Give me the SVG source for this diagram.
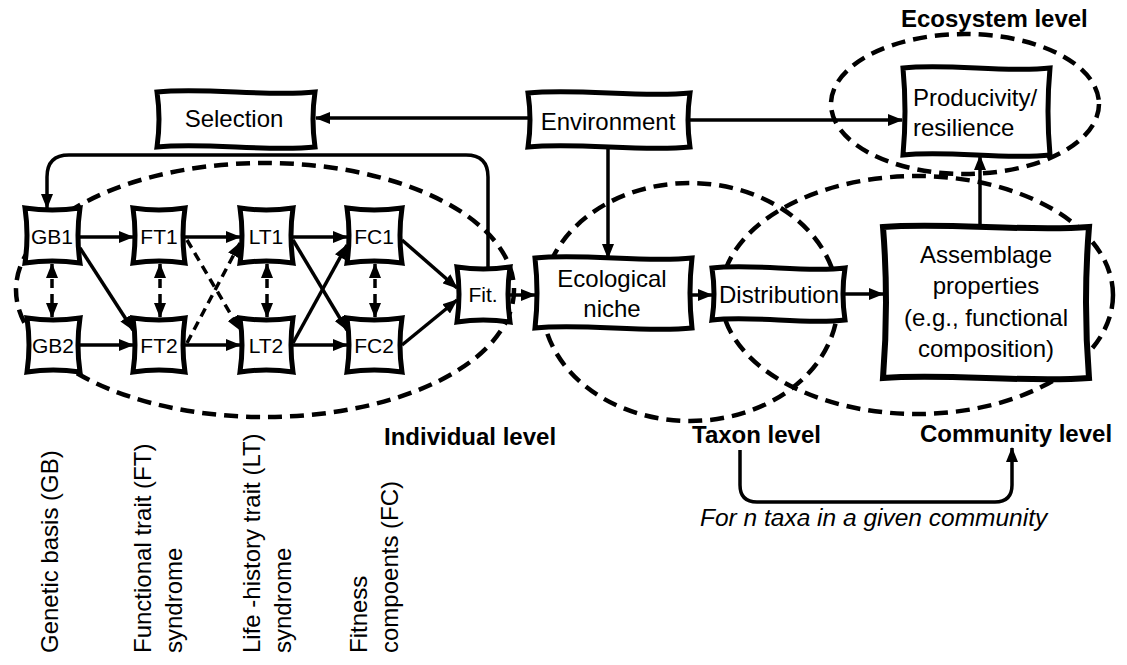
<svg xmlns="http://www.w3.org/2000/svg" width="1127" height="665" viewBox="0 0 1127 665">
<defs>
<marker id="ah" markerUnits="userSpaceOnUse" markerWidth="15" markerHeight="12" refX="14" refY="6" orient="auto-start-reverse" viewBox="0 0 15 12">
<path d="M0,0 L15,6 L0,12 Z" fill="#000"/>
</marker>
</defs>
<style>
.box{fill:#fff;stroke:#000;stroke-width:5;stroke-linejoin:miter}
.ell{fill:none;stroke:#000;stroke-width:4.5;stroke-dasharray:14 8}
.c{fill:none;stroke:#000;stroke-width:3.5}
.d{fill:none;stroke:#000;stroke-width:3.5;stroke-dasharray:9 6}
.t{font-family:"Liberation Sans",Arial,sans-serif;font-size:24px;fill:#000}
.s{font-family:"Liberation Sans",Arial,sans-serif;font-size:21px;fill:#000;text-anchor:middle}
.m{text-anchor:middle}
.b{font-weight:bold}
.i{font-style:italic;font-size:24.5px}
</style>
<rect width="1127" height="665" fill="#fff"/>

<g id="regions">
<ellipse class="ell" cx="265" cy="290" rx="249" ry="127"/>
<ellipse class="ell" cx="690" cy="302" rx="148" ry="119"/>
<ellipse class="ell" cx="917" cy="295" rx="196" ry="119"/>
<ellipse class="ell" cx="965" cy="104" rx="134" ry="70"/>
</g>

<g id="connectors">
<path class="c" d="M80,237 H133" marker-end="url(#ah)"/>
<path class="c" d="M80,345 H133" marker-end="url(#ah)"/>
<path class="c" d="M185,237 H240" marker-end="url(#ah)"/>
<path class="c" d="M185,345 H240" marker-end="url(#ah)"/>
<path class="c" d="M293,237 H347" marker-end="url(#ah)"/>
<path class="c" d="M293,345 H347" marker-end="url(#ah)"/>
<path class="c" d="M80,248 L133,330" marker-end="url(#ah)"/>
<path class="d" d="M187,240 L240,330" marker-end="url(#ah)"/>
<path class="d" d="M187,343 L240,243" marker-end="url(#ah)"/>
<path class="c" d="M293,240 L347,330" marker-end="url(#ah)"/>
<path class="c" d="M293,343 L347,245" marker-end="url(#ah)"/>
<path class="c" d="M402,240 L457,288" marker-end="url(#ah)"/>
<path class="c" d="M402,345 L457,300" marker-end="url(#ah)"/>
<path class="d" d="M52,264 V317" marker-start="url(#ah)" marker-end="url(#ah)"/>
<path class="d" d="M160,264 V317" marker-start="url(#ah)" marker-end="url(#ah)"/>
<path class="d" d="M267,264 V317" marker-start="url(#ah)" marker-end="url(#ah)"/>
<path class="d" d="M375,264 V317" marker-start="url(#ah)" marker-end="url(#ah)"/>
<path class="c" d="M488,267 V177 Q488,155 466,155 H69 Q47,155 47,177 V208" marker-end="url(#ah)"/>
<path class="c" d="M528,118 H316" marker-end="url(#ah)"/>
<path class="c" d="M690,120 H902" marker-end="url(#ah)"/>
<path class="c" d="M608,147 V258" marker-end="url(#ah)"/>
<path class="c" d="M510,295 H535" marker-end="url(#ah)"/>
<path class="c" d="M692,295 H712" marker-end="url(#ah)"/>
<path class="c" d="M845,294 H883" marker-end="url(#ah)"/>
<path class="c" d="M980,227 V156" marker-end="url(#ah)"/>
<path class="c" d="M740,450 V485 Q740,502 757,502 H995 Q1012,502 1012,485 V448" marker-end="url(#ah)"/>
</g>

<g id="GB1"><path class="box" d="M25,208 Q52,212 80,208 Q76,235 80,263 Q52,259 25,263 Q29,235 25,208 Z"/><text class="s" x="52" y="244">GB1</text></g>
<g id="GB2"><path class="box" d="M27,318 Q53,322 80,318 Q76,345 80,372 Q53,368 27,372 Q31,345 27,318 Z"/><text class="s" x="53" y="353">GB2</text></g>
<g id="FT1"><path class="box" d="M133,208 Q159,212 185,208 Q181,235 185,263 Q159,259 133,263 Q137,235 133,208 Z"/><text class="s" x="159" y="244">FT1</text></g>
<g id="FT2"><path class="box" d="M133,318 Q159,322 185,318 Q181,345 185,372 Q159,368 133,372 Q137,345 133,318 Z"/><text class="s" x="159" y="353">FT2</text></g>
<g id="LT1"><path class="box" d="M240,208 Q266,212 293,208 Q289,235 293,263 Q266,259 240,263 Q244,235 240,208 Z"/><text class="s" x="266" y="244">LT1</text></g>
<g id="LT2"><path class="box" d="M240,318 Q266,322 293,318 Q289,345 293,372 Q266,368 240,372 Q244,345 240,318 Z"/><text class="s" x="266" y="353">LT2</text></g>
<g id="FC1"><path class="box" d="M347,208 Q374,212 402,208 Q398,235 402,263 Q374,259 347,263 Q351,235 347,208 Z"/><text class="s" x="374" y="244">FC1</text></g>
<g id="FC2"><path class="box" d="M347,318 Q374,322 402,318 Q398,345 402,372 Q374,368 347,372 Q351,345 347,318 Z"/><text class="s" x="374" y="353">FC2</text></g>
<g id="Fit"><path class="box" d="M457,267 Q483,271 510,267 Q506,294 510,322 Q483,318 457,322 Q461,294 457,267 Z"/><text class="s" x="483" y="302">Fit.</text></g>

<g id="Selection"><path class="box" d="M157,92 C204,87 268,97 315,92 Q311,119 315,147 C268,152 204,142 157,147 Q161,119 157,92 Z"/><text class="t m" x="234" y="127">Selection</text></g>
<g id="Environment"><path class="box" d="M528,93 C577,88 641,98 690,93 Q686,120 690,147 C641,152 577,142 528,147 Q532,120 528,93 Z"/><text class="t m" x="608" y="130">Environment</text></g>
<g id="Productivity"><path class="box" d="M903,68 C947,63 1006,73 1050,68 Q1046,111 1050,155 C1006,160 947,150 903,155 Q907,111 903,68 Z"/><text class="t" x="913" y="106">Producivity/</text><text class="t" x="913" y="136">resilience</text></g>
<g id="EcologicalNiche"><path class="box" d="M535,258 C582,253 645,263 692,258 Q688,293 692,328 C645,333 582,323 535,328 Q539,293 535,258 Z"/><text class="t m" x="612" y="287">Ecological</text><text class="t m" x="612" y="317">niche</text></g>
<g id="Distribution"><path class="box" d="M712,268 C752,263 805,273 845,268 Q841,294 845,320 C805,325 752,315 712,320 Q716,294 712,268 Z"/><text class="t m" x="779" y="303">Distribution</text></g>
<g id="Assemblage"><path class="box" style="stroke-width:6" d="M883,227 C945,222 1027,232 1089,227 Q1083,302 1089,378 C1027,383 945,373 883,378 Q889,302 883,227 Z"/><text class="t m" x="986" y="263">Assemblage</text><text class="t m" x="986" y="294">properties</text><text class="t m" x="986" y="326">(e.g., functional</text><text class="t m" x="986" y="357">composition)</text></g>

<g id="labels">
<text class="t b" x="901" y="27">Ecosystem level</text>
<text class="t b" x="384" y="445">Individual level</text>
<text class="t b" x="692" y="443">Taxon level</text>
<text class="t b" x="920" y="442">Community level</text>
<text class="t i" x="700" y="526">For n taxa in a given community</text>
<text class="t" transform="translate(58,653) rotate(-90)">Genetic basis (GB)</text>
<text class="t" transform="translate(151,653) rotate(-90)">Functional trait (FT)</text>
<text class="t" transform="translate(182,653) rotate(-90)">syndrome</text>
<text class="t" transform="translate(260,653) rotate(-90)">Life -history trait (LT)</text>
<text class="t" transform="translate(291,653) rotate(-90)">syndrome</text>
<text class="t" transform="translate(367,653) rotate(-90)">Fitness</text>
<text class="t" transform="translate(398,653) rotate(-90)">compoents (FC)</text>
</g>
</svg>
